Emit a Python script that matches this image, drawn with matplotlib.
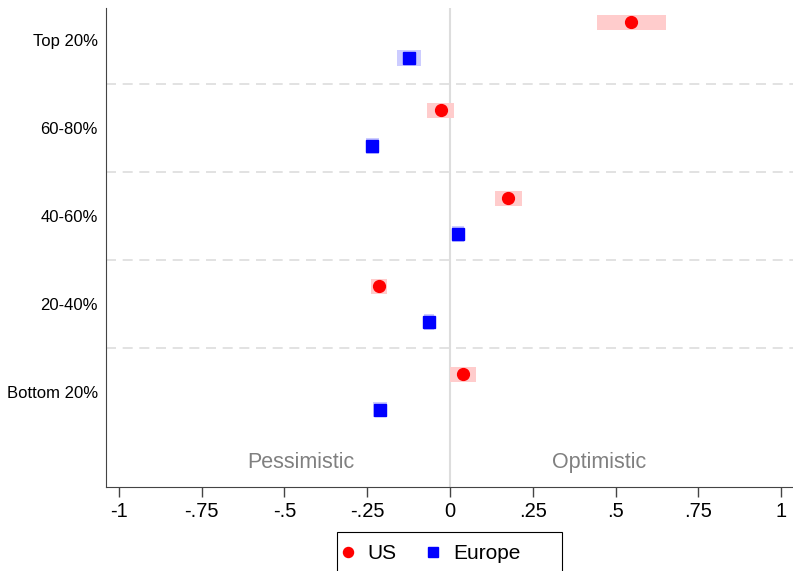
import matplotlib.pyplot as plt
import numpy as np
from matplotlib.patches import Rectangle

plt.rcParams['font.family'] = ['Liberation Sans', 'DejaVu Sans']

groups = ['Top 20%', '60-80%', '40-60%', '20-40%', 'Bottom 20%']
us_est = [0.547, -0.028, 0.176, -0.214, 0.038]
us_lo = [0.444, -0.069, 0.136, -0.238, 0.000]
us_hi = [0.653, 0.013, 0.218, -0.190, 0.078]
eu_est = [-0.124, -0.236, 0.023, -0.062, -0.211]
eu_lo = [-0.160, -0.254, 0.005, -0.078, -0.233]
eu_hi = [-0.088, -0.215, 0.042, -0.047, -0.190]
xticks = [-1, -0.75, -0.5, -0.25, 0, 0.25, 0.5, 0.75, 1]
xticklabels = ['-1', '-.75', '-.5', '-.25', '0', '.25', '.5', '.75', '1']

fig = plt.figure(figsize=(7.93, 5.71), dpi=100)
ax = fig.add_axes([106/793, 84/571, 1 - 106/793, 479/571])

pos = np.arange(len(groups))
y_us = pos - 0.2
y_eu = pos + 0.2

# confidence intervals as shaded boxes
ax.barh(y_us, np.array(us_hi) - np.array(us_lo), left=us_lo, height=0.17,
        color='#ffcccc', zorder=2)
ax.barh(y_eu, np.array(eu_hi) - np.array(eu_lo), left=eu_lo, height=0.18,
        color='#ccccff', zorder=2)

ax.plot(us_est, y_us, 'o', color='red', markersize=8.5, zorder=3, label='US')
ax.plot(eu_est, y_eu, 's', color='blue', markersize=8, zorder=3, label='Europe')

ax.axvline(0, color='#dddddd', lw=1.5, zorder=1)
for b in pos[:-1] + 0.5:
    ax.axhline(b, color='#dddddd', lw=1.2, ls=(0, (6, 4)), zorder=1)

ax.set_xlim(-1.039, 1.036)
ax.set_ylim(5.08, -0.364)
ax.set_xticks(xticks)
ax.set_xticklabels(xticklabels, fontsize=14.5)
ax.set_yticks(pos)
ax.set_yticklabels(groups, fontsize=12)
ax.tick_params(axis='y', length=0, pad=6)
ax.tick_params(axis='x', length=7, width=1, color='#444444', pad=4)

for s in ['top', 'right']:
    ax.spines[s].set_visible(False)
for s in ['left', 'bottom']:
    ax.spines[s].set_color('#444444')

ax.text(-0.45, 4.8, 'Pessimistic', color='#808080', fontsize=15.5,
        ha='center', va='center')
ax.text(0.45, 4.8, 'Optimistic', color='#808080', fontsize=15.5,
        ha='center', va='center')

# legend box runs off the bottom edge, like the original
fig.patches.append(Rectangle((337/793, -0.05), 225/793, 0.05 + 1 - 532/571,
                             transform=fig.transFigure, fill=False,
                             edgecolor='black', lw=0.8))
leg = fig.legend(loc='center', bbox_to_anchor=(431/793, 1 - 553.5/571),
                 ncol=2, fontsize=15, frameon=False, borderpad=0,
                 borderaxespad=0, columnspacing=1.45, handletextpad=0.66,
                 handlelength=0.6, markerscale=0.85)

fig.savefig('out.png', dpi=100)
